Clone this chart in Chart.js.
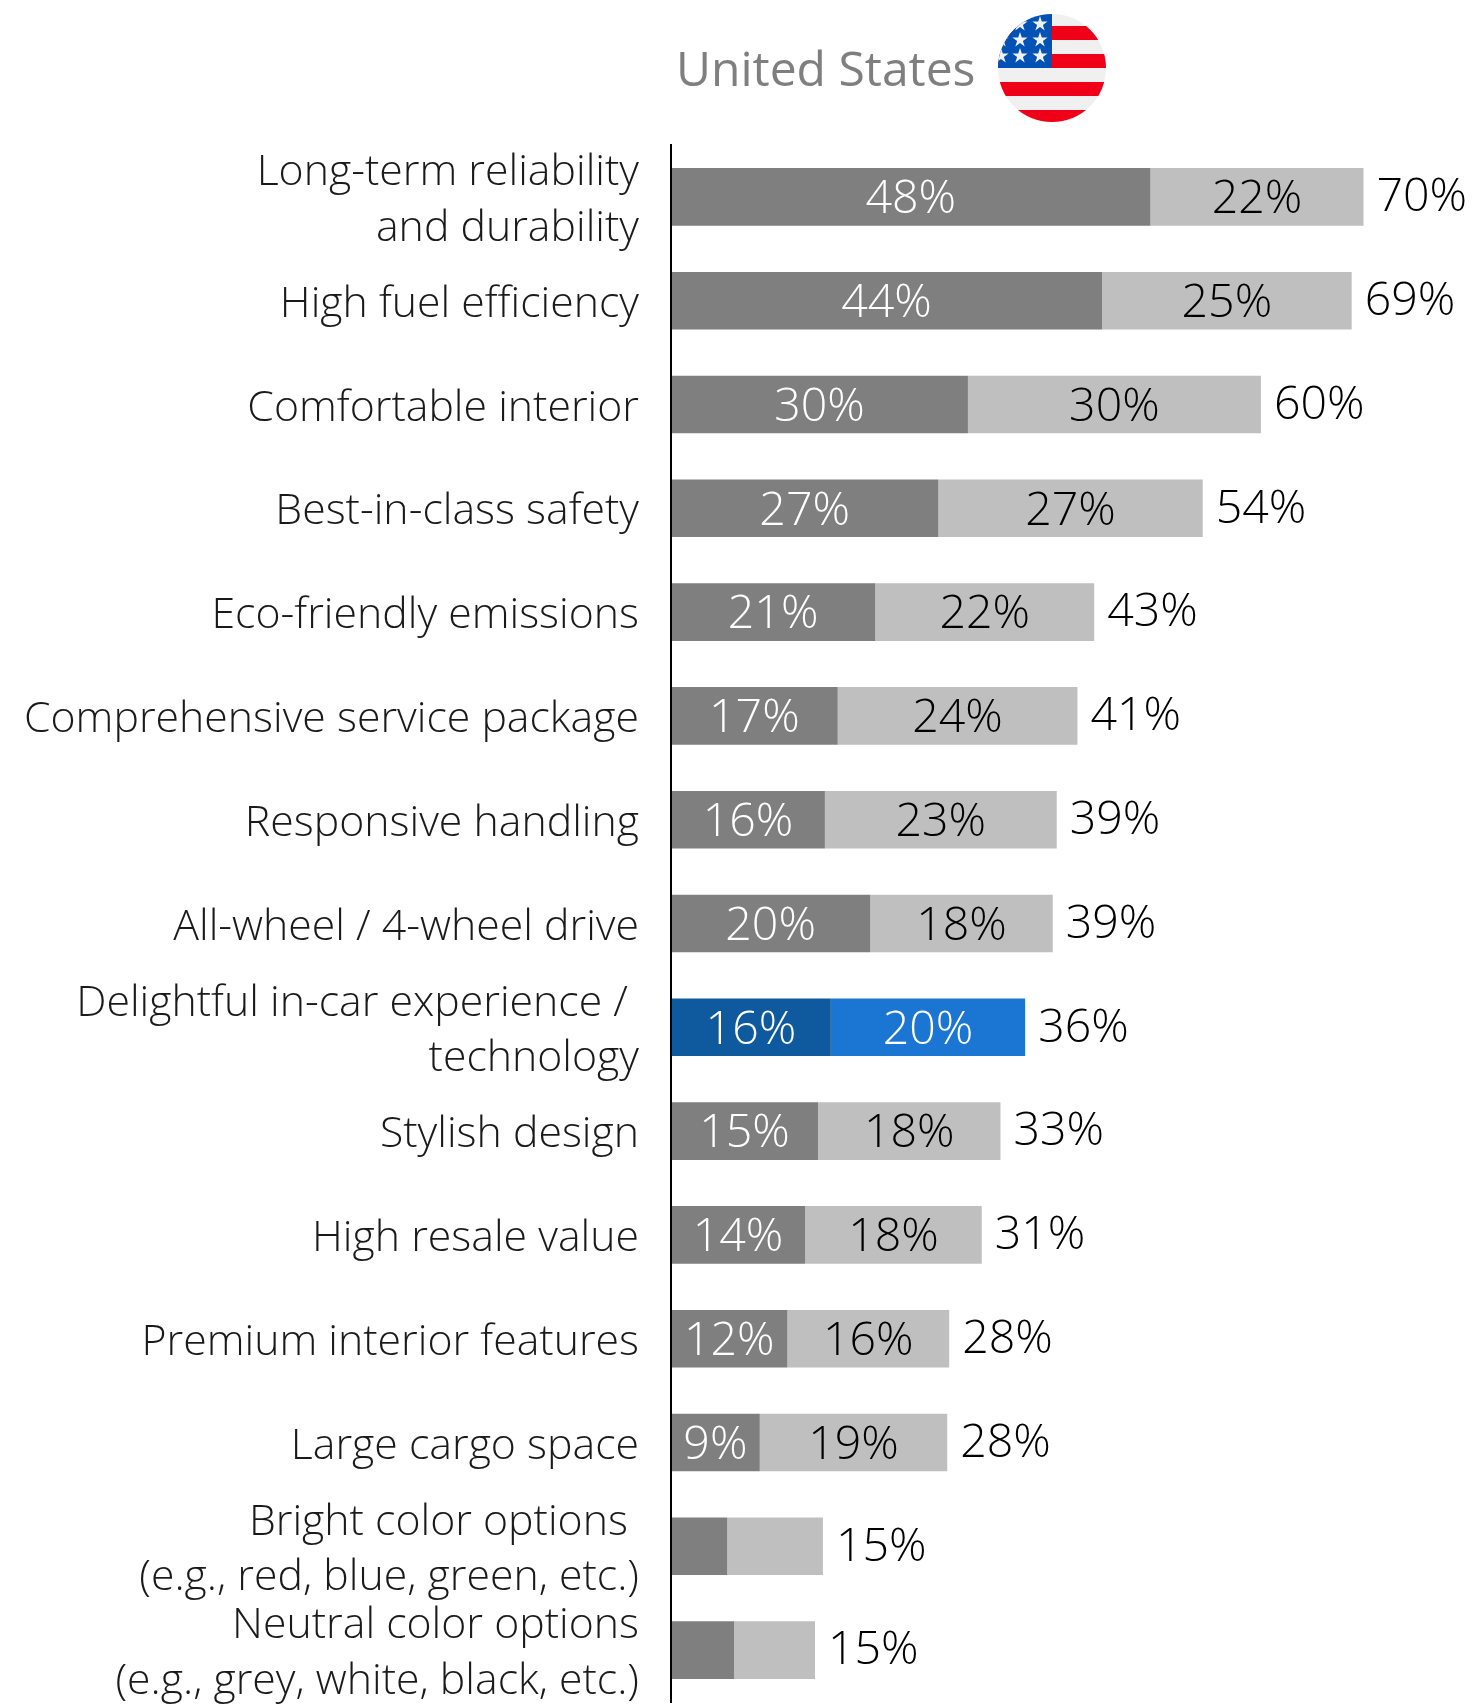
<!DOCTYPE html>
<html>
<head>
<meta charset="utf-8">
<title>United States</title>
<script src="https://cdn.jsdelivr.net/npm/chart.js@4"></script>
<style>
  html, body { margin: 0; padding: 0; background: #fff; overflow: hidden; }
  #wrap { position: relative; width: 1474px; height: 1704px; }
  #title { position: absolute; left: 676px; top: 35px; font: 400 48px "Open Sans", sans-serif; color: #7f7f7f; white-space: nowrap; }
  #flag { position: absolute; left: 998px; top: 14px; }
  canvas { display: block; }
</style>
</head>
<body>
<div id="wrap">
  <div id="title">United States</div>
  <svg id="flag" width="108" height="108" viewBox="0 0 108 108">
    <defs>
      <clipPath id="round"><circle cx="54" cy="54" r="54"/></clipPath>
      <polygon id="star" points="0,-8 1.8,-2.5 7.6,-2.5 2.9,0.9 4.7,6.5 0,3.1 -4.7,6.5 -2.9,0.9 -7.6,-2.5 -1.8,-2.5" fill="#f0f0f0"/>
    </defs>
    <g clip-path="url(#round)">
      <rect width="108" height="108" fill="#f0f0f0"/>
      <rect y="12" width="108" height="14" fill="#f00018"/>
      <rect y="40" width="108" height="14" fill="#f00018"/>
      <rect y="68" width="108" height="14" fill="#f00018"/>
      <rect y="96" width="108" height="12" fill="#f00018"/>
      <rect width="54" height="54" fill="#0052b4"/>
      <use href="#star" x="42" y="10"/><use href="#star" x="22" y="10"/>
      <use href="#star" x="42" y="26"/><use href="#star" x="22" y="26"/><use href="#star" x="3" y="26"/>
      <use href="#star" x="42" y="42"/><use href="#star" x="22" y="42"/><use href="#star" x="3" y="42"/>
    </g>
  </svg>
  <canvas id="chart" width="1474" height="1704"></canvas>
</div>
<script>
const categories = [
  ["Long-term reliability", "and durability"],
  "High fuel efficiency",
  "Comfortable interior",
  "Best-in-class safety",
  "Eco-friendly emissions",
  "Comprehensive service package",
  "Responsive handling",
  "All-wheel / 4-wheel drive",
  ["Delightful in-car experience / ", "technology"],
  "Stylish design",
  "High resale value",
  "Premium interior features",
  "Large cargo space",
  ["Bright color options ", "(e.g., red, blue, green, etc.)"],
  ["Neutral color options", "(e.g., grey, white, black, etc.)"]
];
// bar lengths
const firstValues  = [48.6, 43.7, 30.1, 27.1, 20.7, 16.9, 15.6, 20.2, 16.2, 14.9, 13.6, 11.8, 9.0, 5.7, 6.4];
const secondValues = [21.6, 25.3, 29.7, 26.8, 22.2, 24.3, 23.5, 18.5, 19.7, 18.5, 17.9, 16.4, 19.0, 9.7, 8.2];
const firstLabels  = ["48%", "44%", "30%", "27%", "21%", "17%", "16%", "20%", "16%", "15%", "14%", "12%", "9%", "", ""];
const secondLabels = ["22%", "25%", "30%", "27%", "22%", "24%", "23%", "18%", "20%", "18%", "18%", "16%", "19%", "", ""];
const totalLabels  = ["70%", "69%", "60%", "54%", "43%", "41%", "39%", "39%", "36%", "33%", "31%", "28%", "28%", "15%", "15%"];
const highlightRow = 8;

const GREY_DARK = "#7f7f7f", GREY_LIGHT = "#bfbfbf", BLUE_DARK = "#0f5a9e", BLUE_LIGHT = "#1b75d2";
const FONT = '"Open Sans", sans-serif';

const barLabels = {
  id: "barLabels",
  // category labels sit a little lower than the default centring
  beforeDraw(chart) {
    chart.scales.y.getLabelItems().forEach((item) => { item.textOffset += 4; });
  },
  afterDatasetsDraw(chart) {
    const { ctx, scales: { x, y } } = chart;
    ctx.save();
    ctx.textBaseline = "middle";
    ctx.font = "300 46.5px " + FONT;
    ctx.textAlign = "center";
    categories.forEach((_, i) => {
      const cy = y.getPixelForValue(i) + 3;
      ctx.fillStyle = "#fff";
      ctx.fillText(firstLabels[i], x.getPixelForValue(firstValues[i] / 2), cy);
      ctx.fillStyle = i === highlightRow ? "#fff" : "#000";
      ctx.fillText(secondLabels[i], x.getPixelForValue(firstValues[i] + secondValues[i] / 2), cy);
    });
    ctx.textAlign = "left";
    ctx.fillStyle = "#000";
    categories.forEach((_, i) => {
      const end = x.getPixelForValue(firstValues[i] + secondValues[i]);
      ctx.fillText(totalLabels[i], end + 13, y.getPixelForValue(i) + 1);
    });
    ctx.restore();
  }
};

new Chart(document.getElementById("chart"), {
  type: "bar",
  data: {
    labels: categories,
    datasets: [
      {
        data: firstValues,
        backgroundColor: categories.map((_, i) => i === highlightRow ? BLUE_DARK : GREY_DARK)
      },
      {
        data: secondValues,
        backgroundColor: categories.map((_, i) => i === highlightRow ? BLUE_LIGHT : GREY_LIGHT)
      }
    ]
  },
  options: {
    indexAxis: "y",
    responsive: false,
    animation: false,
    categoryPercentage: 1,
    barPercentage: 0.555,
    layout: { padding: { top: 145, bottom: 2, left: 0, right: 0 } },
    plugins: { legend: { display: false }, tooltip: { enabled: false } },
    scales: {
      x: { display: false, stacked: true, min: 0, max: 81.4 },
      y: {
        stacked: true,
        afterFit(scale) {
          scale.width = 671;
          // the two-line label at the bottom would otherwise shrink the plot
          scale.paddingTop = 0;
          scale.paddingBottom = 0;
        },
        grid: { display: false },
        border: { display: true, color: "#000", width: 2, z: 1 },
        ticks: {
          autoSkip: false,
          padding: 24,
          color: "#1a1a1a",
          font: { family: FONT, size: 42.8, weight: "300", lineHeight: 1.3 }
        }
      }
    }
  },
  plugins: [barLabels]
});
</script>
</body>
</html>
